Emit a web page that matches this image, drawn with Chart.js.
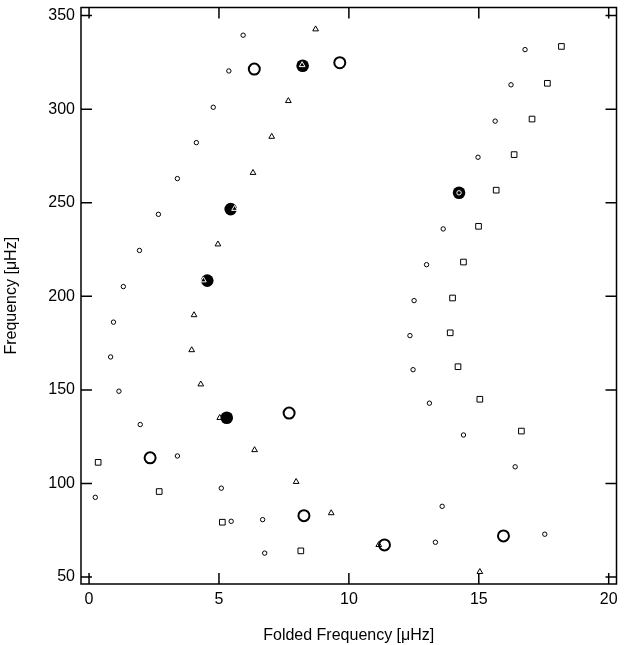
<!DOCTYPE html>
<html lang="en">
<head>
    <meta charset="UTF-8">
    <title>Folded Frequency</title>
    <script src="https://cdnjs.cloudflare.com/ajax/libs/Chart.js/4.4.0/chart.umd.min.js"></script>
    <style>
        html, body { margin: 0; padding: 0; background: #fff; }
        .chart-container { position: relative; width: 624px; height: 645px; }
    </style>
</head>
<body>
    <div class="chart-container">
        <canvas id="echelleChart"></canvas>
    </div>

    <script>
        // small circles
        const circleX = [5.93, 5.38, 4.78, 4.13, 3.40, 2.67, 1.94, 1.32, 0.94, 0.83, 1.15, 1.97, 3.40, 5.09, 0.24, 6.68, 5.47, 6.76,
                         16.78, 16.24, 15.63, 14.97, 14.24, 13.63, 12.99, 12.51, 12.35, 12.47, 13.10, 14.41, 16.40, 13.59, 13.33, 17.54];
        const circleY = [339.5, 320.4, 301.0, 282.1, 262.9, 243.8, 224.5, 205.2, 186.2, 167.6, 149.3, 131.5, 114.7, 97.5, 92.6, 80.7, 79.8, 62.8,
                         331.8, 313.0, 293.6, 274.3, 255.3, 236.0, 216.9, 197.7, 179.0, 160.8, 142.9, 125.9, 108.9, 87.8, 68.6, 72.9];

        // triangles
        const triangleX = [8.72, 8.20, 7.67, 7.03, 6.31, 5.60, 4.96, 4.40, 4.04, 3.95, 4.30, 5.03, 6.37, 7.97, 9.32, 11.15, 15.04];
        const triangleY = [342.7, 323.6, 304.4, 285.3, 266.0, 246.8, 227.8, 208.6, 190.0, 171.3, 153.0, 135.1, 117.9, 100.9, 84.2, 67.2, 52.8];

        // squares
        const squareX = [18.18, 17.64, 17.05, 16.36, 15.67, 14.99, 14.41, 13.99, 13.90, 14.20, 15.04, 16.64, 0.35, 2.70, 5.13, 8.15];
        const squareY = [333.5, 313.8, 294.7, 275.7, 256.7, 237.4, 218.3, 199.1, 180.5, 162.4, 145.0, 128.0, 111.3, 95.7, 79.3, 64.0];

        // big open circles
        const openX = [6.36, 9.65, 7.70, 2.35, 8.27, 11.37, 15.95];
        const openY = [321.4, 324.8, 137.6, 113.7, 82.8, 67.2, 72.0];

        // big filled circles
        const filledX = [8.22, 5.45, 4.55, 14.24, 5.30];
        const filledY = [323.2, 246.6, 208.4, 255.3, 135.1];

        const xTicks = [0, 5, 10, 15, 20];
        const yTicks = [50, 100, 150, 200, 250, 300, 350];

        const toPoints = (xs, ys) => xs.map((x, i) => ({ x: x, y: ys[i] }));

        // markers sitting inside a filled circle show up white
        function markerColor(ctx) {
            const p = ctx.raw;
            if (!p) return '#000';
            const inside = filledX.some((fx, i) => Math.abs(fx - p.x) < 0.2 && Math.abs(filledY[i] - p.y) < 3);
            return inside ? '#fff' : '#000';
        }

        // box round the plot with inward tick marks on all four sides
        const frameTicks = {
            id: 'frameTicks',
            beforeDatasetsDraw(chart) {
                const { ctx, chartArea: a, scales: { x, y } } = chart;
                const len = 11;
                ctx.save();
                ctx.strokeStyle = '#000';
                ctx.lineWidth = 1.5;
                ctx.strokeRect(a.left, a.top, a.right - a.left, a.bottom - a.top);
                ctx.beginPath();
                xTicks.forEach(v => {
                    const px = x.getPixelForValue(v);
                    ctx.moveTo(px, a.bottom); ctx.lineTo(px, a.bottom - len);
                    ctx.moveTo(px, a.top); ctx.lineTo(px, a.top + len);
                });
                yTicks.forEach(v => {
                    const py = y.getPixelForValue(v);
                    ctx.moveTo(a.left, py); ctx.lineTo(a.left + len, py);
                    ctx.moveTo(a.right, py); ctx.lineTo(a.right - len, py);
                });
                ctx.stroke();
                ctx.restore();
            }
        };

        // no extra room for the end labels, the plot box is fixed
        function noEdgePadding(s) {
            s.paddingTop = 0;
            s.paddingBottom = 0;
            s.paddingLeft = 0;
            s.paddingRight = 0;
        }

        const font = { family: '"Liberation Sans", Arial, sans-serif', size: 16 };

        new Chart(document.getElementById('echelleChart').getContext('2d'), {
            type: 'scatter',
            data: {
                datasets: [
                    {
                        data: toPoints(circleX, circleY),
                        pointStyle: 'circle', pointRadius: 2.2, borderWidth: 1,
                        borderColor: markerColor, backgroundColor: 'rgba(0,0,0,0)', order: 1
                    },
                    {
                        data: toPoints(triangleX, triangleY),
                        pointStyle: 'triangle', pointRadius: 3.3, borderWidth: 1,
                        borderColor: markerColor, backgroundColor: 'rgba(0,0,0,0)', order: 1
                    },
                    {
                        data: toPoints(squareX, squareY),
                        pointStyle: 'rect', pointRadius: 4, borderWidth: 1,
                        borderColor: markerColor, backgroundColor: 'rgba(0,0,0,0)', order: 1
                    },
                    {
                        data: toPoints(openX, openY),
                        pointStyle: 'circle', pointRadius: 5.5, borderWidth: 2,
                        borderColor: '#000', backgroundColor: 'rgba(0,0,0,0)', order: 2
                    },
                    {
                        data: toPoints(filledX, filledY),
                        pointStyle: 'circle', pointRadius: 6.3, borderWidth: 0,
                        borderColor: '#000', backgroundColor: '#000', order: 3
                    }
                ]
            },
            options: {
                responsive: true,
                maintainAspectRatio: false,
                animation: false,
                layout: { padding: { top: 4, right: 6, left: 0, bottom: 0 } },
                plugins: { legend: { display: false }, tooltip: { enabled: false } },
                elements: { point: { hoverRadius: 0 } },
                scales: {
                    x: {
                        type: 'linear', min: -0.31, max: 20.3,
                        grid: { display: false, drawTicks: false },
                        border: { display: false },
                        afterBuildTicks: s => { s.ticks = xTicks.map(v => ({ value: v })); },
                        afterFit: s => { s.height = 61; noEdgePadding(s); },
                        ticks: { color: '#000', font: font, padding: 6 },
                        title: { display: true, text: 'Folded Frequency [μHz]', color: '#000', font: font, padding: 0 }
                    },
                    y: {
                        type: 'linear', min: 46.3, max: 354.3,
                        grid: { display: false, drawTicks: false },
                        border: { display: false },
                        afterBuildTicks: s => { s.ticks = yTicks.map(v => ({ value: v })); },
                        afterFit: s => { s.width = 81; noEdgePadding(s); },
                        ticks: { color: '#000', font: font, padding: 6 },
                        title: { display: true, text: 'Frequency [μHz]', color: '#000', font: font, padding: { top: 2, bottom: 0 } }
                    }
                }
            },
            plugins: [frameTicks]
        });
    </script>
</body>
</html>
